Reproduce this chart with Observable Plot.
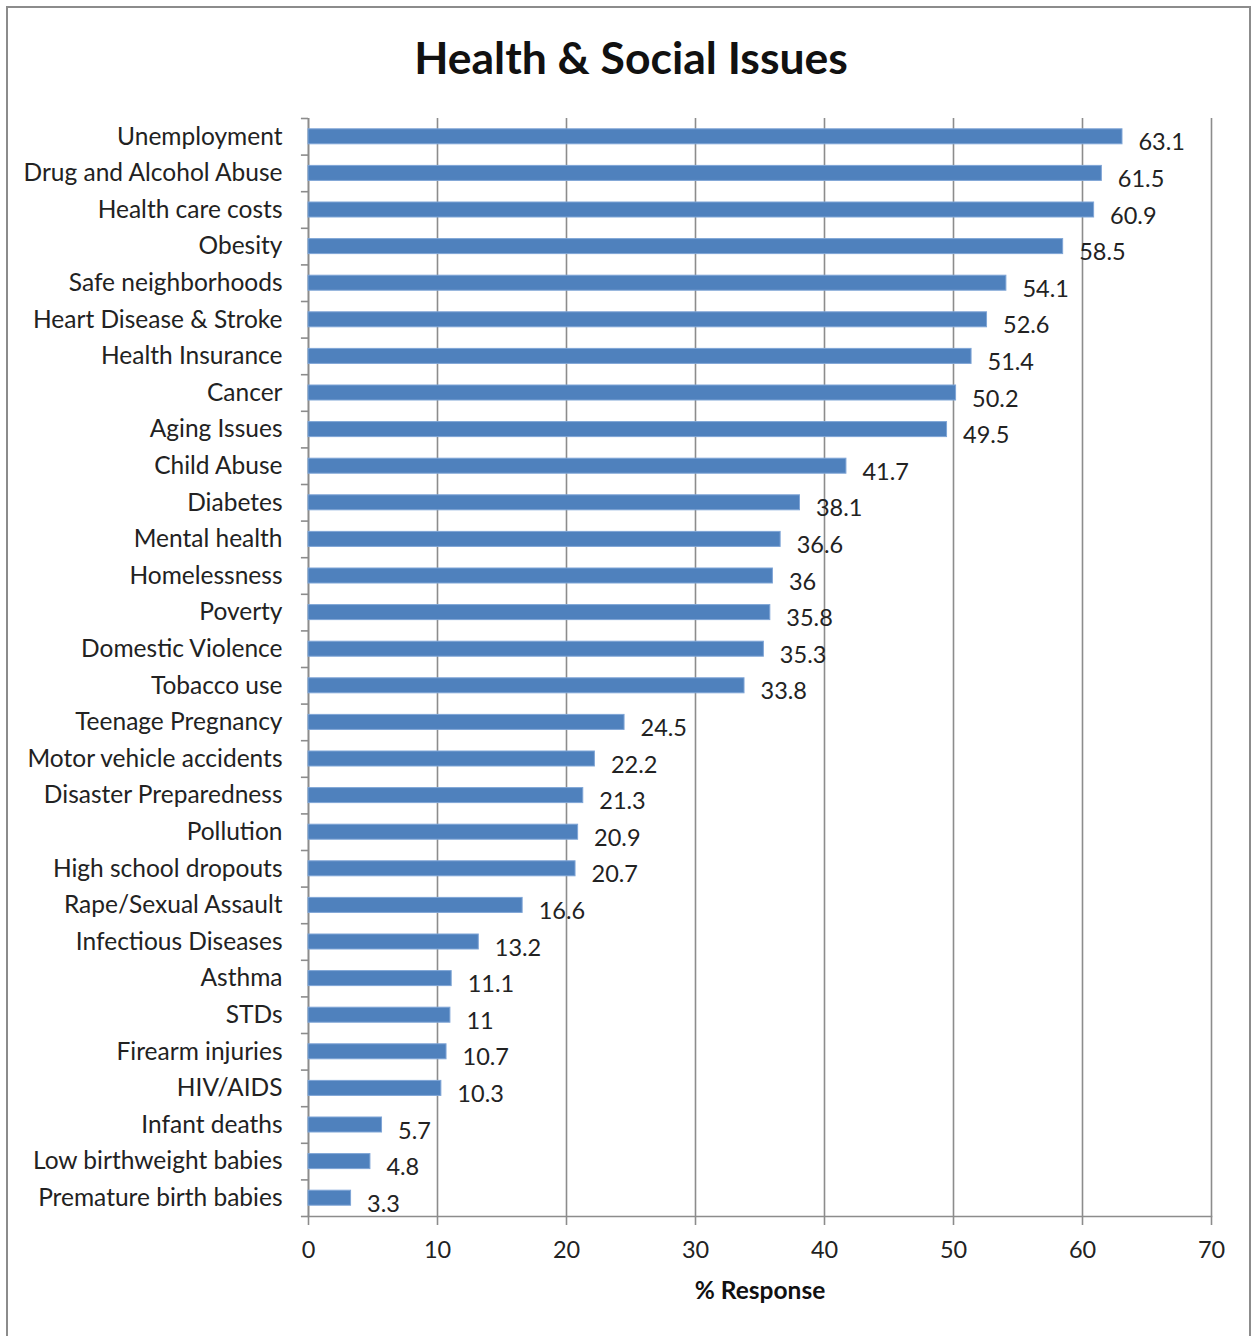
<!DOCTYPE html>
<html>
<head>
<meta charset="utf-8">
<script src="https://cdn.jsdelivr.net/npm/d3@7"></script>
<script src="https://cdn.jsdelivr.net/npm/@observablehq/plot@0.6"></script>
<style>
  html, body { margin: 0; padding: 0; background: #fff; overflow: hidden; }
  #wrap { position: relative; width: 1257px; height: 1336px; }
  #border { position: absolute; left: 6px; top: 6px; width: 1245px; height: 1340px; border: 2px solid #8c8c8c; box-sizing: border-box; }
  #title { position: absolute; left: 0; top: 0; width: 1262px; height: 100px; text-align: center;
           font-family: Lato, "Open Sans", sans-serif; font-weight: bold; font-size: 44.5px; line-height: 114px; color: #111; }
  #chart { position: absolute; left: 0; top: 100px; }
</style>
</head>
<body>
<div id="wrap">
  <div id="border"></div>
  <div id="title">Health &amp; Social Issues</div>
  <div id="chart"></div>
</div>
<script>
const categories = [
  "Unemployment", "Drug and Alcohol Abuse", "Health care costs", "Obesity", "Safe neighborhoods",
  "Heart Disease & Stroke", "Health Insurance", "Cancer", "Aging Issues", "Child Abuse",
  "Diabetes", "Mental health", "Homelessness", "Poverty", "Domestic Violence",
  "Tobacco use", "Teenage Pregnancy", "Motor vehicle accidents", "Disaster Preparedness", "Pollution",
  "High school dropouts", "Rape/Sexual Assault", "Infectious Diseases", "Asthma", "STDs",
  "Firearm injuries", "HIV/AIDS", "Infant deaths", "Low birthweight babies", "Premature birth babies"
];
const values = [
  63.1, 61.5, 60.9, 58.5, 54.1,
  52.6, 51.4, 50.2, 49.5, 41.7,
  38.1, 36.6, 36, 35.8, 35.3,
  33.8, 24.5, 22.2, 21.3, 20.9,
  20.7, 16.6, 13.2, 11.1, 11,
  10.7, 10.3, 5.7, 4.8, 3.3
];
const xTicks = [0, 10, 20, 30, 40, 50, 60, 70];
const xLabel = "% Response";

const data = categories.map((c, i) => ({category: c, value: values[i]}));
const font = "Lato, 'Open Sans', sans-serif";
const step = (1116 - 18) / categories.length;

const chart = Plot.plot({
  width: 1257,
  height: 1236,
  marginLeft: 308,
  marginRight: 46,
  marginTop: 18,
  marginBottom: 120,
  style: {fontFamily: font, fontSize: "24px", color: "#222", background: "transparent"},
  x: {domain: [0, 70], ticks: xTicks, label: null},
  y: {domain: categories, paddingInner: 0.59, paddingOuter: 0.295, round: false, label: null},
  marks: [
    Plot.gridX(xTicks, {stroke: "#8c8c8c", strokeOpacity: 1, strokeWidth: 1.6}),
    Plot.ruleX([0], {stroke: "#8c8c8c", strokeWidth: 1.6}),
    Plot.frame({anchor: "bottom", stroke: "#8c8c8c", strokeWidth: 1.6}),
    Plot.ruleY(categories, {y: d => d, x1: 0, x2: -0.55, dy: step / 2, stroke: "#8c8c8c", strokeWidth: 1.6}),
    Plot.ruleY([categories[0]], {y: d => d, x1: 0, x2: -0.55, dy: -step / 2, stroke: "#8c8c8c", strokeWidth: 1.6}),
    Plot.barX(data, {x: "value", y: "category", fill: "#4f81bd", stroke: "#7fa5d6", strokeWidth: 1}),
    Plot.text(data, {x: "value", y: "category", text: d => String(d.value), textAnchor: "start", dx: 16, dy: 6,
                     fill: "#222", fontSize: 23.5}),
    Plot.axisX({ticks: xTicks, tickSize: 9, tickPadding: 16, stroke: "#8c8c8c", strokeWidth: 1.6,
                fontSize: 23.5, fill: "#222", label: null}),
    Plot.axisY({tickSize: 0, tickPadding: 26, fontSize: 24.5, fill: "#222", label: null}),
    Plot.text([xLabel], {frameAnchor: "bottom", dy: 82, x: 35, text: d => d, fontWeight: "bold", fontSize: 24.5, fill: "#111"})
  ]
});
document.getElementById("chart").appendChild(chart);
</script>
</body>
</html>
